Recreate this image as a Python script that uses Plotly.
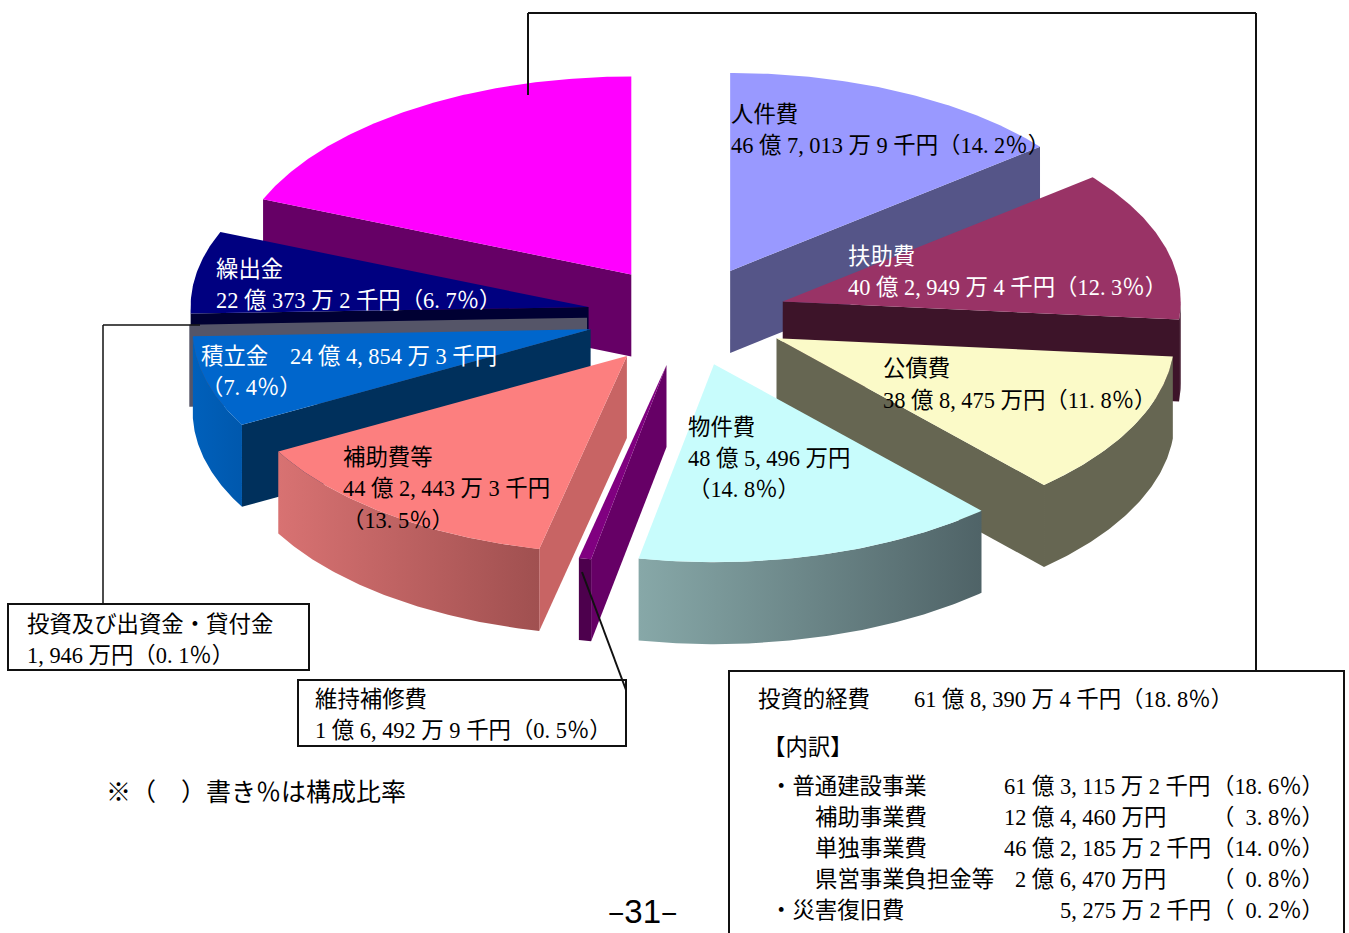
import math
import plotly.graph_objects as go

# 歳出の性質別内訳（万円）。時計回りに 12 時の位置から並ぶ
categories = ["人件費", "扶助費", "公債費", "物件費", "維持補修費", "補助費等",
              "積立金", "投資及び出資金・貸付金", "繰出金", "投資的経費"]
amounts_man_yen = [467013.9, 402949.4, 388475.0, 485496.0, 16492.9, 442443.3,
                   244854.3, 1946.0, 220373.2, 618390.4]

# 面の色：上面、切断面、外周（左端、右端）
top_colors = ["#9999ff", "#993366", "#fbfac8", "#c8fcfc", "#800080", "#fc7f7f",
              "#0066cc", "#555568", "#000080", "#ff00ff"]
cut_colors = ["#555588", "#3d1429", "#666652", "#506468", "#660066", "#c86464",
              "#00305c", "#555568", "#000033", "#660066"]
rim_left = ["#555588", "#3d1429", "#666652", "#87a8a8", "#4d004d", "#d87272",
            "#0060bb", "#5c5c6c", "#000033", "#660066"]
rim_right = ["#555588", "#3d1429", "#666652", "#4f6367", "#4d004d", "#a05050",
             "#0058ad", "#5c5c6c", "#000033", "#660066"]

# 奥から手前へ重ねる順
draw_order = [9, 0, 8, 7, 6, 1, 2, 5, 4, 3]

# 斜めから見た円盤の投影
CENTER_X, CENTER_Y = 687, 316
RADIUS_X, RADIUS_Y = 398, 198
DEPTH = 82
EXPLODE = 100

FONT = "Liberation Serif, Noto Sans CJK JP, sans-serif"
FONT_SIZE = 22.4
NOTE_FONT_SIZE = 25
LABEL_INSET = 2

# 項目ラベル（色、行ごとの x, y, 文字列）
slice_labels = [
    ("black", 731, 114, "人件費"),
    ("black", 731, 145, "46 億 7,013 万 9 千円（14.2%）"),
    ("white", 848, 256, "扶助費"),
    ("white", 848, 287, "40 億 2,949 万 4 千円（12.3%）"),
    ("black", 883, 368, "公債費"),
    ("black", 883, 400, "38 億 8,475 万円（11.8%）"),
    ("black", 688, 427, "物件費"),
    ("black", 688, 458, "48 億 5,496 万円"),
    ("black", 688, 489, "（14.8%）"),
    ("black", 343, 457, "補助費等"),
    ("black", 343, 488, "44 億 2,443 万 3 千円"),
    ("black", 342, 520, "（13.5%）"),
    ("white", 216, 269, "繰出金"),
    ("white", 216, 300, "22 億 373 万 2 千円（6.7%）"),
    ("white", 201, 356, "積立金"),
    ("white", 290, 356, "24 億 4,854 万 3 千円"),
    ("white", 201, 387, "（7.4%）"),
    ("black", 27, 624, "投資及び出資金・貸付金"),
    ("black", 27, 655, "1,946 万円（0.1%）"),
    ("black", 315, 699, "維持補修費"),
    ("black", 315, 730, "1 億 6,492 万 9 千円（0.5%）"),
    ("black", 758, 699, "投資的経費"),
    ("black", 914, 699, "61 億 8,390 万 4 千円（18.8%）"),
    ("black", 763, 747, "【内訳】"),
    ("black", 770, 786, "・普通建設事業"),
    ("black", 1004, 786, "61 億 3,115 万 2 千円"),
    ("black", 1212, 786, "（18.6%）"),
    ("black", 815, 817, "補助事業費"),
    ("black", 1004, 817, "12 億 4,460 万円"),
    ("black", 1212, 817, "（\u00a0\u00a03.8%）"),
    ("black", 815, 848, "単独事業費"),
    ("black", 1004, 848, "46 億 2,185 万 2 千円"),
    ("black", 1212, 848, "（14.0%）"),
    ("black", 815, 879, "県営事業負担金等"),
    ("black", 1015, 879, "2 億 6,470 万円"),
    ("black", 1212, 879, "（\u00a0\u00a00.8%）"),
    ("black", 770, 910, "・災害復旧費"),
    ("black", 1060, 910, "5,275 万 2 千円"),
    ("black", 1212, 910, "（\u00a0\u00a00.2%）"),
]
note_text = "※（　）書き%は構成比率"
page_number = "31"

# 引出線と枠（x0, y0, x1, y1, 線幅）
leader_lines = [
    (528, 13, 1256, 13, 2),
    (528, 13, 528, 95, 2),
    (1256, 13, 1256, 671, 2),
    (103, 325, 200, 325, 1.5),
    (103, 325, 103, 604, 1.5),
    (582, 572, 626, 690, 2),
]
boxes = [
    (8, 604, 309, 670),
    (298, 680, 626, 746),
    (729, 671, 1344, 950),
]

total = sum(amounts_man_yen)
spans = []
running = 0.0
for amount in amounts_man_yen:
    start = running / total * 360
    running += amount
    spans.append((start, running / total * 360))


def full_pitch(text):
    """句読点と % を等幅組みの字送りに揃える"""
    return text.replace(",", ",\u00a0").replace(".", ".\u00a0").replace("%", "％")


def arc(cx, cy, a0, a1):
    steps = max(2, int(abs(a1 - a0) * 2) + 1)
    angles = [a0 + (a1 - a0) * i / steps for i in range(steps + 1)]
    xs = [cx + RADIUS_X * math.sin(math.radians(t)) for t in angles]
    ys = [cy - RADIUS_Y * math.cos(math.radians(t)) for t in angles]
    return xs, ys


def face(xs, ys, color=None, gradient=None):
    style = dict(x=xs + xs[:1], y=ys + ys[:1], mode="lines", fill="toself",
                 line=dict(width=0), hoverinfo="skip", showlegend=False)
    if gradient:
        style["fillgradient"] = dict(type="horizontal",
                                     colorscale=[[0, gradient[0]], [1, gradient[1]]])
    else:
        style["fillcolor"] = color
    return go.Scatter(**style)


def radial_face(cx, cy, angle, color):
    ex, ey = arc(cx, cy, angle, angle)
    xs = [cx, ex[0], ex[0], cx]
    ys = [cy, ey[0], ey[0] + DEPTH, cy + DEPTH]
    return face(xs, ys, color)


fig = go.Figure()
for i in draw_order:
    start, end = spans[i]
    mid = math.radians((start + end) / 2)
    cx = CENTER_X + EXPLODE * math.sin(mid)
    cy = CENTER_Y - EXPLODE * 0.5 * math.cos(mid)

    # 手前を向く切断面だけを描く
    if math.sin(math.radians(end)) > 0:
        fig.add_trace(radial_face(cx, cy, end, cut_colors[i]))
    if math.sin(math.radians(start)) < 0:
        fig.add_trace(radial_face(cx, cy, start, cut_colors[i]))

    # 外周の側面（90〜270 度の範囲が見える）
    low, high = max(start, 90), min(end, 270)
    if high > low:
        xs, ys = arc(cx, cy, low, high)
        wall_x = xs + xs[::-1]
        wall_y = ys + [y + DEPTH for y in ys[::-1]]
        fig.add_trace(face(wall_x, wall_y, gradient=(rim_left[i], rim_right[i])))

    xs, ys = arc(cx, cy, start, end)
    fig.add_trace(face([cx] + xs, [cy] + ys, top_colors[i]))

shapes = [
    dict(type="line", x0=x0, y0=y0, x1=x1, y1=y1, xref="x", yref="y",
         line=dict(color="#111111", width=w))
    for x0, y0, x1, y1, w in leader_lines
]
shapes += [
    dict(type="rect", x0=x0, y0=y0, x1=x1, y1=y1, xref="x", yref="y",
         line=dict(color="#111111", width=2), fillcolor="rgba(0,0,0,0)")
    for x0, y0, x1, y1 in boxes
]

annotations = [
    dict(x=x - LABEL_INSET, y=y, text=full_pitch(text), xref="x", yref="y", showarrow=False,
         xanchor="left", yanchor="middle",
         font=dict(family=FONT, size=FONT_SIZE, color=color))
    for color, x, y, text in slice_labels
]
annotations.append(
    dict(x=106 - LABEL_INSET, y=792, text=full_pitch(note_text), xref="x", yref="y",
         showarrow=False, xanchor="left", yanchor="middle",
         font=dict(family=FONT, size=NOTE_FONT_SIZE, color="black"))
)
dash = '<span style="font-size:28px">−</span>'
annotations.append(
    dict(x=642, y=911, text=f"{dash}{page_number}{dash}", xref="x", yref="y", showarrow=False,
         xanchor="center", yanchor="middle",
         font=dict(family="Liberation Sans, sans-serif", size=33, color="black"))
)

fig.update_layout(
    width=1349, height=933, autosize=False,
    margin=dict(l=0, r=0, t=0, b=0),
    paper_bgcolor="white", plot_bgcolor="white",
    xaxis=dict(range=[0, 1349], visible=False, fixedrange=True),
    yaxis=dict(range=[933, 0], visible=False, fixedrange=True),
    shapes=shapes, annotations=annotations, showlegend=False,
)

fig.write_html("out.html", config=dict(displayModeBar=False))
